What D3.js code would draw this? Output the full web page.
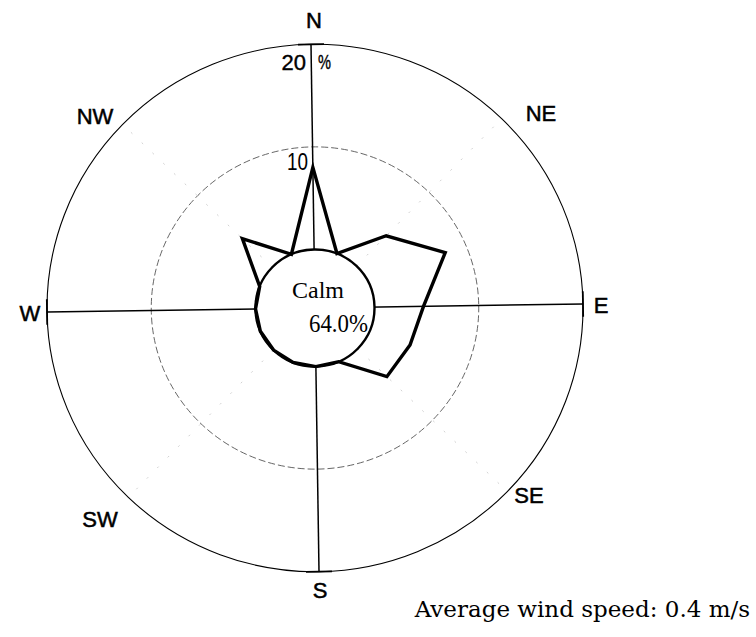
<!DOCTYPE html>
<html>
<head>
<meta charset="utf-8">
<script src="https://cdn.jsdelivr.net/npm/d3@7/dist/d3.min.js"></script>
<style>
  html, body { margin: 0; padding: 0; background: #fff; }
  svg { display: block; }
</style>
</head>
<body>
<svg id="chart" width="756" height="637"></svg>
<script>
// ---- data ----
const directions = ["N","NNE","NE","ENE","E","ESE","SE","SSE","S","SSW","SW","WSW","W","WNW","NW","NNW"];
const frequency  = [8.0, 0, 4.1, 7.9, 4.7, 4.1, 3.9, 0, 0, 0, 0, 0, 0, 0, 4.0, 0];
const ringTicks  = [10, 20];
const compassLabels = ["N","NE","E","SE","S","SW","W","NW"];
const calmPercent = 64.0;
const avgWindSpeed = 0.4;

// ---- layout ----
const cx = 315, cy = 308;
const r0 = 59.5, R = 268;
const labelPos = {
  N: [314, 28], NE: [541, 121], E: [601, 313], SE: [529, 503],
  S: [320, 598], SW: [100, 527], W: [30, 321], NW: [95, 124]
};

const svg = d3.select("#chart");
const angle = d3.scaleLinear().domain([0, directions.length]).range([0, 2 * Math.PI]);
const radius = d3.scaleLinear().domain([0, 20]).range([r0, R]);

const g = svg.append("g")
  .attr("transform", `translate(${cx},${cy}) rotate(-0.87) scale(1,0.984)`);

const pt = (a, r) => [r * Math.sin(a), -r * Math.cos(a)];

// diagonal faint dashed lines
[45, 135, 225, 315].forEach(deg => {
  const a = deg * Math.PI / 180;
  const p1 = pt(a, r0), p2 = pt(a, R);
  g.append("line")
    .attr("x1", p1[0]).attr("y1", p1[1]).attr("x2", p2[0]).attr("y2", p2[1])
    .attr("stroke", "#bbb").attr("stroke-width", 0.7)
    .attr("stroke-dasharray", "2,13");
});

// rings
g.append("circle").attr("r", radius(ringTicks[0]))
  .attr("fill", "none").attr("stroke", "#555").attr("stroke-width", 0.9)
  .attr("stroke-dasharray", "7,3");
g.append("circle").attr("r", radius(ringTicks[1]))
  .attr("fill", "none").attr("stroke", "#000").attr("stroke-width", 1.1);

// main axes
[0, 90, 180, 270].forEach(deg => {
  const a = deg * Math.PI / 180;
  const p2 = pt(a, R);
  g.append("line")
    .attr("x1", 0).attr("y1", 0).attr("x2", p2[0]).attr("y2", p2[1])
    .attr("stroke", "#000").attr("stroke-width", 1.5);
  const t = 13;
  const tx = Math.cos(a) * t, ty = Math.sin(a) * t;
  g.append("line")
    .attr("x1", p2[0] - tx).attr("y1", p2[1] - ty)
    .attr("x2", p2[0] + tx).attr("y2", p2[1] + ty)
    .attr("stroke", "#000").attr("stroke-width", 1.8);
});

// calm circle fill (covers axes)
g.append("circle").attr("r", r0).attr("fill", "#fff").attr("stroke", "none");

// frequency polygon
const line = d3.lineRadial()
  .angle((d, i) => angle(i))
  .radius(d => radius(d))
  .curve(d3.curveLinearClosed);
g.append("path")
  .datum(frequency)
  .attr("d", line)
  .attr("fill", "none")
  .attr("stroke", "#000")
  .attr("stroke-width", 3.4)
  .attr("stroke-linejoin", "miter");

// calm circle stroke
g.append("circle").attr("r", r0).attr("fill", "none")
  .attr("stroke", "#000").attr("stroke-width", 2.4);

// compass labels
svg.append("g").selectAll("text")
  .data(compassLabels).join("text")
  .attr("x", d => labelPos[d][0]).attr("y", d => labelPos[d][1])
  .attr("text-anchor", "middle")
  .attr("font-family", "Liberation Sans, Arial, sans-serif")
  .attr("font-size", 22)
  .attr("stroke", "#000").attr("stroke-width", 0.5)
  .attr("fill", "#000")
  .text(d => d);

// ring tick labels
svg.append("text").attr("x", 306).attr("y", 70)
  .attr("text-anchor", "end")
  .attr("font-family", "Liberation Sans, Arial, sans-serif")
  .attr("font-size", 22).attr("stroke", "#000").attr("stroke-width", 0.4)
  .text(ringTicks[1]);
svg.append("text").attr("x", 318).attr("y", 69)
  .attr("font-family", "Liberation Sans, Arial, sans-serif")
  .attr("font-size", 21).attr("textLength", 13).attr("lengthAdjust", "spacingAndGlyphs")
  .attr("stroke", "#000").attr("stroke-width", 0.4)
  .text("%");
svg.append("text").attr("x", 308).attr("y", 170)
  .attr("text-anchor", "end")
  .attr("font-family", "Liberation Sans, Arial, sans-serif")
  .attr("font-size", 24).attr("textLength", 21).attr("lengthAdjust", "spacingAndGlyphs")
  .text(ringTicks[0]);

// calm text
svg.append("text").attr("x", 318).attr("y", 298)
  .attr("text-anchor", "middle")
  .attr("font-family", "Liberation Serif, Times New Roman, serif")
  .attr("font-size", 24)
  .text("Calm");
svg.append("text").attr("x", 309).attr("y", 332)
  .attr("font-family", "Liberation Serif, Times New Roman, serif")
  .attr("font-size", 26).attr("textLength", 59).attr("lengthAdjust", "spacingAndGlyphs")
  .text(calmPercent.toFixed(1) + "%");

// average wind speed
svg.append("text").attr("x", 750).attr("y", 617)
  .attr("text-anchor", "end")
  .attr("font-family", "DejaVu Serif, serif")
  .attr("font-size", 23)
  .text(`Average wind speed: ${avgWindSpeed} m/s`);
</script>
</body>
</html>
